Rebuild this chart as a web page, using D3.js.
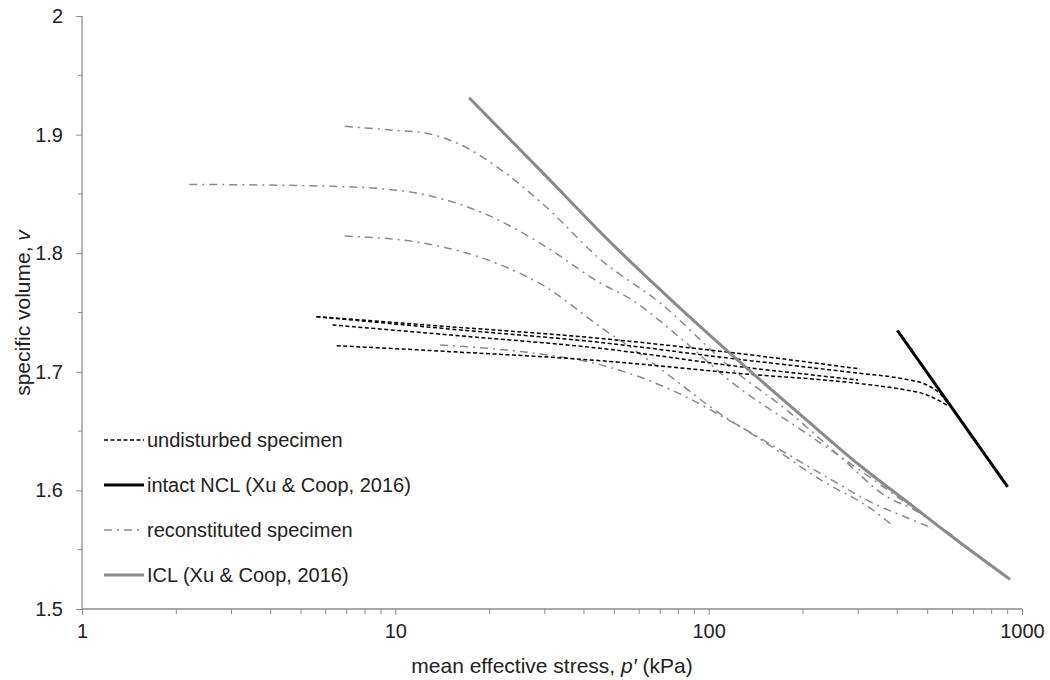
<!DOCTYPE html>
<html>
<head>
<meta charset="utf-8">
<script src="https://cdn.jsdelivr.net/npm/d3@7"></script>
<style>
  body { margin: 0; background: #fff; }
  text { font-family: "Liberation Sans", Arial, sans-serif; fill: #222; }
</style>
</head>
<body>
<div id="chart"></div>
<script>
// p' (kPa), v
var undisturbed1 = [[5.6,1.7465],[15,1.738],[45,1.7282],[120,1.716],[304,1.7024]];
var undisturbed2 = [[5.6,1.7465],[15,1.736],[45,1.7248],[120,1.711],[304,1.6987],[408,1.6945],[497,1.6889],[545,1.682],[575,1.6748]];
var undisturbed3 = [[6.3,1.7395],[15,1.731],[45,1.7198],[120,1.705],[300,1.6931]];
var undisturbed4 = [[6.5,1.722],[15,1.717],[45,1.7094],[120,1.699],[304,1.690],[408,1.6855],[497,1.6805],[550,1.675],[582,1.6712]];

var recon1 = [[6.9,1.907],[9.5,1.904],[12.6,1.901],[16,1.892],[21.3,1.872],[30,1.84],[45,1.795],[70,1.758],[120,1.7015],[177,1.668],[263,1.6284],[370,1.5947],[450,1.584],[500,1.577]];
var recon2 = [[2.2,1.858],[5,1.857],[8.7,1.8547],[12.6,1.849],[20.8,1.8294],[30,1.806],[45,1.775],[57,1.7605],[80,1.73],[120,1.69],[200,1.65],[300,1.618],[450,1.585],[600,1.562]];
var recon3 = [[6.9,1.8145],[12.6,1.808],[20.8,1.792],[30,1.772],[45,1.738],[60,1.7156],[81,1.69],[101,1.6706],[153,1.6397],[228,1.6088],[334,1.5835],[384,1.571]];
var recon4 = [[13.9,1.7226],[29,1.715],[42.8,1.7074],[59,1.6965],[80,1.682],[120,1.657],[180,1.630],[250,1.608],[330,1.59],[420,1.578],[520,1.568]];

var intactNCL = [[400,1.735],[900,1.603]];
var icl = [[17.2,1.931],[30,1.866],[50,1.806],[76,1.7605],[120,1.713],[200,1.662],[304,1.621],[450,1.5863],[589,1.5624],[916,1.525]];

var xTicks = [1,10,100,1000];
var yTicks = [1.5,1.6,1.7,1.8,1.9,2];

var legendItems = [
  {label: "undisturbed specimen", color: "#000", width: 1.5, dash: "4,2.5"},
  {label: "intact NCL (Xu & Coop, 2016)", color: "#000", width: 3, dash: null},
  {label: "reconstituted specimen", color: "#8a8a8a", width: 1.5, dash: "8,5,2,5"},
  {label: "ICL (Xu & Coop, 2016)", color: "#8a8a8a", width: 3, dash: null}
];

var width = 1050, height = 680;
var svg = d3.select("#chart").append("svg")
    .attr("width", width)
    .attr("height", height);

var x = d3.scaleLog().domain([1,1000]).range([82,1022]);
var y = d3.scaleLinear().domain([1.5,2]).range([609,16]);

var axisColor = "#8c8c8c";

// minor ticks
var xMinor = [];
[1,10,100].forEach(function(d) {
  for (var k = 2; k <= 9; k++) xMinor.push(d*k);
});
var yMinor = [1.55,1.65,1.75,1.85,1.95];

var gx = svg.append("g").attr("transform", "translate(0," + y(1.5) + ")");
gx.call(d3.axisBottom(x).tickValues(xTicks).tickFormat(d3.format("d")).tickSize(6).tickPadding(9));
gx.selectAll("line.minor").data(xMinor).enter().append("line")
  .attr("class","minor")
  .attr("x1", function(d){ return x(d); })
  .attr("x2", function(d){ return x(d); })
  .attr("y1", 0).attr("y2", 5)
  .attr("stroke", axisColor);

var gy = svg.append("g").attr("transform", "translate(" + x(1) + ",0)");
gy.call(d3.axisLeft(y).tickValues(yTicks).tickFormat(function(d){ return d3.format("")(+d.toFixed(1)); }).tickSize(6).tickPadding(13));
gy.selectAll("line.minor").data(yMinor).enter().append("line")
  .attr("class","minor")
  .attr("y1", function(d){ return y(d); })
  .attr("y2", function(d){ return y(d); })
  .attr("x1", 0).attr("x2", -4)
  .attr("stroke", axisColor);

[gx, gy].forEach(function(g) {
  g.select(".domain").attr("stroke", axisColor).attr("stroke-width", 1.3);
  g.selectAll(".tick line").attr("stroke", axisColor);
  g.selectAll(".tick text")
    .style("font-size", "20px")
    .style("font-family", "'Liberation Sans', Arial, sans-serif")
    .attr("fill", "#222");
});
gy.select(".domain").attr("d", "M0," + y(2) + "V" + y(1.5));
gx.select(".domain").attr("d", "M" + x(1) + ",0H" + x(1000));

// axis titles
var xt = svg.append("text")
  .attr("x", 552).attr("y", 673)
  .attr("text-anchor", "middle")
  .style("font-size", "21px");
xt.append("tspan").text("mean effective stress, ");
xt.append("tspan").style("font-style", "italic").text("p\u2032");
xt.append("tspan").text(" (kPa)");

var yt = svg.append("text")
  .attr("transform", "translate(30,313) rotate(-90)")
  .attr("text-anchor", "middle")
  .style("font-size", "21px");
yt.append("tspan").text("specific volume, ");
yt.append("tspan").style("font-style", "italic").text("v");

var line = d3.line()
  .x(function(d){ return x(d[0]); })
  .y(function(d){ return y(d[1]); })
  .curve(d3.curveMonotoneX);

function drawSeries(data, item) {
  svg.append("path")
    .datum(data)
    .attr("d", line)
    .attr("fill", "none")
    .attr("stroke", item.color)
    .attr("stroke-width", item.width)
    .attr("stroke-dasharray", item.dash);
}

[recon1, recon2, recon3, recon4].forEach(function(s){ drawSeries(s, legendItems[2]); });
[undisturbed1, undisturbed2, undisturbed3, undisturbed4].forEach(function(s){ drawSeries(s, legendItems[0]); });
drawSeries(icl, legendItems[3]);
drawSeries(intactNCL, legendItems[1]);

// legend
var lg = svg.append("g");
legendItems.forEach(function(item, i) {
  var ly = 440 + i * 45;
  lg.append("line")
    .attr("x1", 104).attr("x2", 144)
    .attr("y1", ly).attr("y2", ly)
    .attr("stroke", item.color)
    .attr("stroke-width", item.width)
    .attr("stroke-dasharray", item.dash);
  lg.append("text")
    .attr("x", 147).attr("y", ly + 7)
    .style("font-size", "20px")
    .text(item.label);
});
</script>
</body>
</html>
